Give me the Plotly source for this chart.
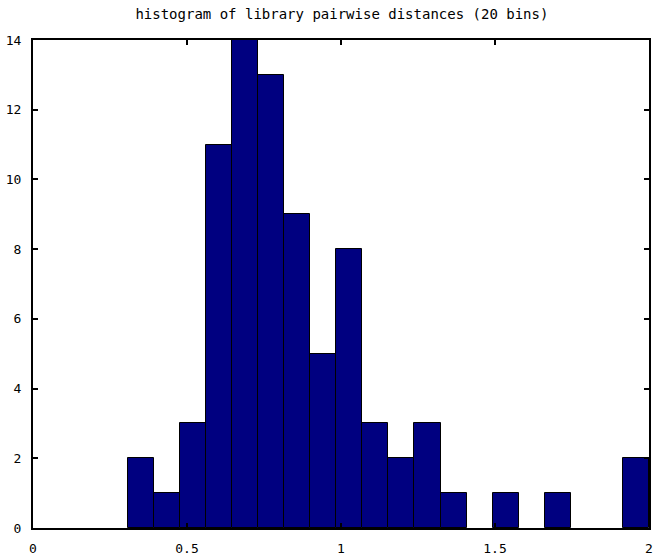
import plotly.graph_objects as go

# Histogram of library pairwise distances, 20 equal-width bins
dist_min = 0.308
dist_max = 2.0
n_bins = 20
counts = [2, 1, 3, 11, 14, 13, 9, 5, 8, 3, 2, 3, 1, 0, 1, 0, 1, 0, 0, 2]

x_ticks = [0, 0.5, 1, 1.5, 2]
x_labels = ["0", "0.5", "1", "1.5", "2"]
y_ticks = [0, 2, 4, 6, 8, 10, 12, 14]

bin_w = (dist_max - dist_min) / n_bins
centers = [dist_min + bin_w * (i + 0.5) for i in range(n_bins)]
# empty bins are left blank rather than drawn as flat outlines
heights = [c if c > 0 else None for c in counts]

mono = "DejaVu Sans Mono"

fig = go.Figure(
    go.Bar(
        x=centers,
        y=heights,
        width=[bin_w] * n_bins,
        marker=dict(color="#000080", line=dict(color="black", width=1)),
        hoverinfo="x+y",
    )
)

fig.update_layout(
    width=655,
    height=558,
    margin=dict(l=33, r=2, t=40, b=30),
    paper_bgcolor="white",
    plot_bgcolor="white",
    showlegend=False,
    bargap=0,
    title=dict(
        text="histogram of library pairwise distances (20 bins)",
        x=0.522,
        xanchor="center",
        y=0.975,
        yanchor="middle",
        font=dict(family=mono, size=14, color="black"),
    ),
)

fig.update_xaxes(
    range=[0, 2],
    tickvals=x_ticks,
    ticktext=x_labels,
    ticks="inside",
    ticklen=5,
    tickwidth=2,
    tickcolor="black",
    showline=True,
    linecolor="black",
    linewidth=2,
    mirror="ticks",
    showgrid=False,
    zeroline=False,
    ticklabelstandoff=7,
    tickfont=dict(family=mono, size=13, color="black"),
)

fig.update_yaxes(
    range=[0, 14],
    tickvals=y_ticks,
    ticks="inside",
    ticklen=5,
    tickwidth=2,
    tickcolor="black",
    showline=True,
    linecolor="black",
    linewidth=2,
    mirror="ticks",
    showgrid=False,
    zeroline=False,
    ticklabelstandoff=7,
    tickfont=dict(family=mono, size=13, color="black"),
)

fig.write_html("out.html")
